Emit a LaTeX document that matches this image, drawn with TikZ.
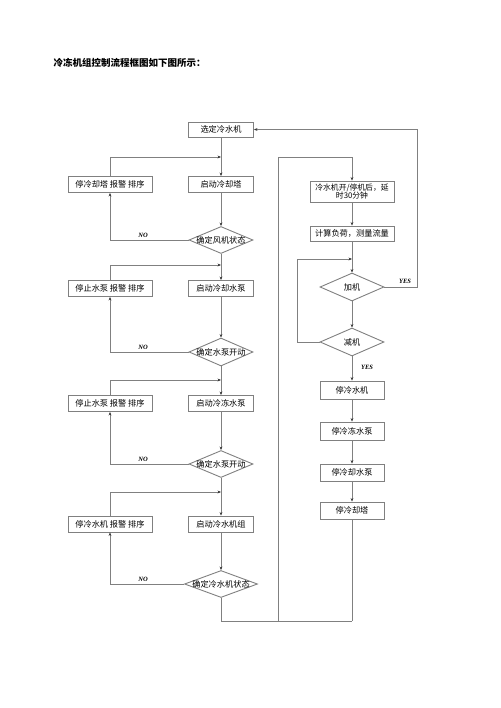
\documentclass[tikz,border=0pt]{standalone}
\usepackage{fontspec}
\setmainfont{Noto Sans CJK SC}
\newfontfamily\yesnofont{Liberation Serif}
\usetikzlibrary{shapes.geometric,arrows.meta}
\definecolor{linegray}{RGB}{128,128,128}
\tikzset{
  box/.style={draw=linegray, line width=0.9pt, fill=white, minimum height=16pt,
    inner sep=1pt, font=\fontsize{8.2}{9.5}\selectfont},
  dec/.style={diamond, draw=linegray, line width=0.9pt, fill=white, aspect=2.37,
    inner xsep=-10pt, inner ysep=0pt, minimum width=64pt, minimum height=27pt,
    font=\fontsize{8.2}{9.5}\selectfont},
  tag/.style={font=\yesnofont\bfseries\itshape\fontsize{6.5}{7}\selectfont, inner sep=0pt},
  flow/.style={draw=linegray, line width=0.9pt},
}
\begin{document}
\begin{tikzpicture}[x=1pt,y=-1pt,>={Stealth[length=3.5pt,width=2.8pt,color=black!80]}]
  \useasboundingbox (0,0) rectangle (500,708);
  \node[anchor=west, font=\bfseries\fontsize{9.5}{11}\selectfont] (title) at (50,63)
    {冷冻机组控制流程框图如下图所示：};

  % start column
  \node[box, minimum width=65pt, minimum height=15pt] (m0) at (221,129.5) {选定冷水机};
  \node[box, minimum width=65pt] (m1) at (221,184.5) {启动冷却塔};
  \node[dec] (d1) at (221,240) {确定风机状态};
  \node[box, minimum width=84pt] (l1) at (110,184.5) {停冷却塔\ 报警\ 排序};
  \node[box, minimum width=65pt] (m2) at (221,288.5) {启动冷却水泵};
  \node[dec, minimum height=28pt] (d2) at (221,352) {确定水泵开动};
  \node[box, minimum width=84pt] (l2) at (110,288.5) {停止水泵\ 报警\ 排序};
  \node[box, minimum width=65pt] (m3) at (221,403.5) {启动冷冻水泵};
  \node[dec] (d3) at (221,464) {确定水泵开动};
  \node[box, minimum width=84pt] (l3) at (110,403.5) {停止水泵\ 报警\ 排序};
  \node[box, minimum width=65pt] (m4) at (221,524) {启动冷水机组};
  \node[dec, minimum width=73pt, inner xsep=-14pt] (d4) at (221,584) {确定冷水机状态};
  \node[box, minimum width=84pt] (l4) at (110,524) {停冷水机\ 报警\ 排序};

  % load column
  \node[box, minimum width=84pt, minimum height=21pt, align=center,
    font=\fontsize{7.8}{8.6}\selectfont] (r1) at (352,191.5) {冷水机开/停机后，延\\时30分钟};
  \node[box, minimum width=84pt, minimum height=15pt] (r2) at (352,233.5) {计算负荷，测量流量};
  \node[dec, minimum height=28pt, inner xsep=0pt] (d5) at (352,287) {加机};
  \node[dec, minimum height=28pt, inner xsep=0pt] (d6) at (352,342) {减机};
  \node[box, minimum width=64pt, minimum height=18pt] (r3) at (352,390) {停冷水机};
  \node[box, minimum width=64pt, minimum height=18pt] (r4) at (352,431) {停冷冻水泵};
  \node[box, minimum width=64pt, minimum height=17pt] (r5) at (352,472.5) {停冷却水泵};
  \node[box, minimum width=64pt, minimum height=17pt] (r6) at (352,510.5) {停冷却塔};

  % joints
  \coordinate (j1) at (221,157);
  \coordinate (j2) at (221,265);
  \coordinate (j3) at (221,380);
  \coordinate (j4) at (221,492);
  \coordinate (e0) at (352,621);
  \coordinate (c0) at (278,621);
  \coordinate (k0) at (417,129.5);
  \coordinate (k1) at (352,259);
  \coordinate (k2) at (297,259);

  \begin{scope}[flow, ->]
    \draw (m0) to (m1);
    \draw (l1.north) |- (j1);
    \draw (m1) to (d1);
    \draw (d1.west) -| (l1.south);
    \draw (d1) to (m2);
    \draw (l2.north) |- (j2);
    \draw (m2) to (d2);
    \draw (d2.west) -| (l2.south);
    \draw (d2) to (m3);
    \draw (l3.north) |- (j3);
    \draw (m3) to (d3);
    \draw (d3.west) -| (l3.south);
    \draw (d3) to (m4);
    \draw (l4.north) |- (j4);
    \draw (m4) to (d4);
    \draw (d4.west) -| (l4.south);
    \draw (c0) |- (278,157) -| (r1.north);
    \draw (r1) to (r2);
    \draw (r2) to (d5);
    \draw (d5.east) -| (k0) -- (m0.east);
    \draw (d5) to (d6);
    \draw (d6.west) -| (k2) -- (k1);
    \draw (d6) to (r3);
    \draw (r3) to (r4);
    \draw (r4) to (r5);
    \draw (r5) to (r6);
  \end{scope}
  \begin{scope}[flow, -]
    \draw (d4.south) |- (e0);
    \draw (r6.south) -- (e0);
  \end{scope}

  \node[tag] (no1) at (143,235) {NO};
  \node[tag] (no2) at (143,347) {NO};
  \node[tag] (no3) at (143,459) {NO};
  \node[tag] (no4) at (143,579) {NO};
  \node[tag] (yes1) at (405,281) {YES};
  \node[tag] (yes2) at (367,367) {YES};
\end{tikzpicture}
\end{document}
